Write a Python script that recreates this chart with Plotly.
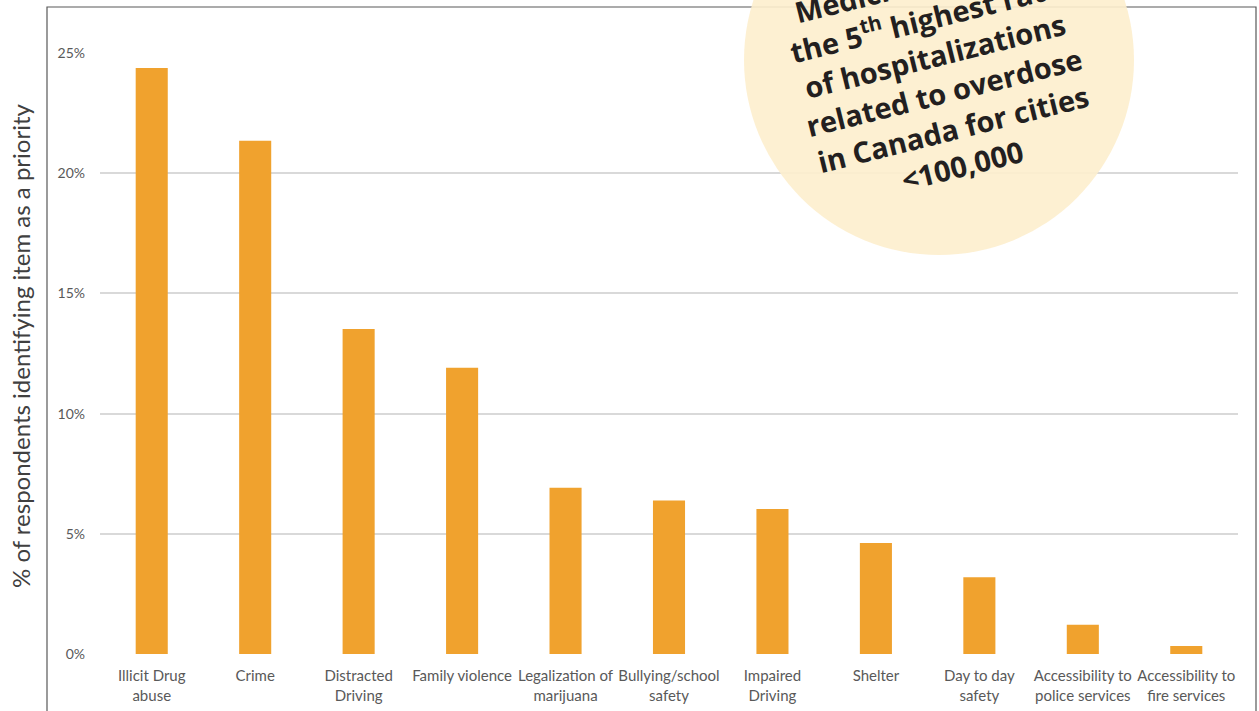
import plotly.graph_objects as go

categories = ["Illicit Drug abuse", "Crime", "Distracted Driving", "Family violence",
              "Legalization of marijuana", "Bullying/school safety", "Impaired Driving",
              "Shelter", "Day to day safety", "Accessibility to police services",
              "Accessibility to fire services"]
tick_labels = ["Illicit Drug<br>abuse", "Crime", "Distracted<br>Driving", "Family violence",
               "Legalization of<br>marijuana", "Bullying/school<br>safety", "Impaired<br>Driving",
               "Shelter", "Day to day<br>safety", "Accessibility to<br>police services",
               "Accessibility to<br>fire services"]
values = [24.38, 21.35, 13.52, 11.91, 6.92, 6.39, 6.03, 4.62, 3.19, 1.22, 0.33]
y_ticks = [0, 5, 10, 15, 20, 25]
y_tick_text = ["0%", "5%", "10%", "15%", "20%", "25%"]
y_title = "% of respondents identifying item as a priority"
callout_lines = ["Medicine Hat has", "the 5<sup>th</sup> highest rate", "of hospitalizations",
                 "related to overdose", "in Canada for cities", "&lt;100,000"]

fig = go.Figure()
fig.add_trace(go.Bar(
    x=categories, y=values,
    marker=dict(color="#F0A22E", line=dict(width=0)),
    width=0.31,
))

W, H = 1259, 711
L, R, T, B = 100, 21, 53, 57
pw, ph = W - L - R, H - T - B

def px_x(x):
    return (x - L) / pw

def px_y(y):
    return (H - B - y) / ph

fig.update_layout(
    width=W, height=H,
    margin=dict(l=L, r=R, t=T, b=B, pad=0, autoexpand=False),
    paper_bgcolor="white", plot_bgcolor="white",
    showlegend=False,
    font=dict(family="Lato, sans-serif", color="#595959"),
    xaxis=dict(
        range=[-0.5, 10.5], tickmode="array", tickvals=categories, ticktext=tick_labels,
        showgrid=False, zeroline=False, showline=False, ticks="", automargin=False,
        tickfont=dict(size=15, color="#595959", family="Lato, sans-serif"),
        ticklabelstandoff=11,
    ),
    yaxis=dict(
        range=[0, 25], tickmode="array", tickvals=y_ticks, ticktext=y_tick_text,
        showgrid=True, gridcolor="#D9D9D9", gridwidth=1.5, zeroline=False, showline=False,
        ticks="", automargin=False,
        tickfont=dict(size=14, color="#595959", family="Lato, sans-serif"),
        ticklabelstandoff=14,
    ),
    bargap=0.69,
)

# y-axis title placed outside the frame, as in the reference
fig.add_annotation(
    xref="paper", yref="paper", x=px_x(20), y=px_y(346),
    xanchor="center", yanchor="middle", showarrow=False, textangle=-90,
    text=y_title, font=dict(size=24, color="#404040", family="Lato, sans-serif"),
)

# outer frame
fig.add_shape(type="rect", xref="paper", yref="paper",
              x0=px_x(47), x1=px_x(1256), y0=px_y(760), y1=px_y(7),
              line=dict(color="#595959", width=1.2), fillcolor="rgba(0,0,0,0)", layer="below")

# callout circle
cx, cy, r = 939, 60, 195
fig.add_shape(type="circle", xref="paper", yref="paper",
              x0=px_x(cx - r), x1=px_x(cx + r), y0=px_y(cy + r), y1=px_y(cy - r),
              fillcolor="rgb(253,238,205)", opacity=0.9, line=dict(width=0), layer="above")

fig.add_annotation(
    xref="paper", yref="paper", x=px_x(939), y=px_y(74),
    xanchor="center", yanchor="middle", showarrow=False,
    text="<br>".join(callout_lines), align="center", textangle=-14,
    font=dict(family="Open Sans, sans-serif", size=29, color="#231F20", weight="bold"),
)

fig.write_html("out.html", config={"displayModeBar": False},
               post_script="document.body.style.margin='0';document.body.style.padding='0';")
